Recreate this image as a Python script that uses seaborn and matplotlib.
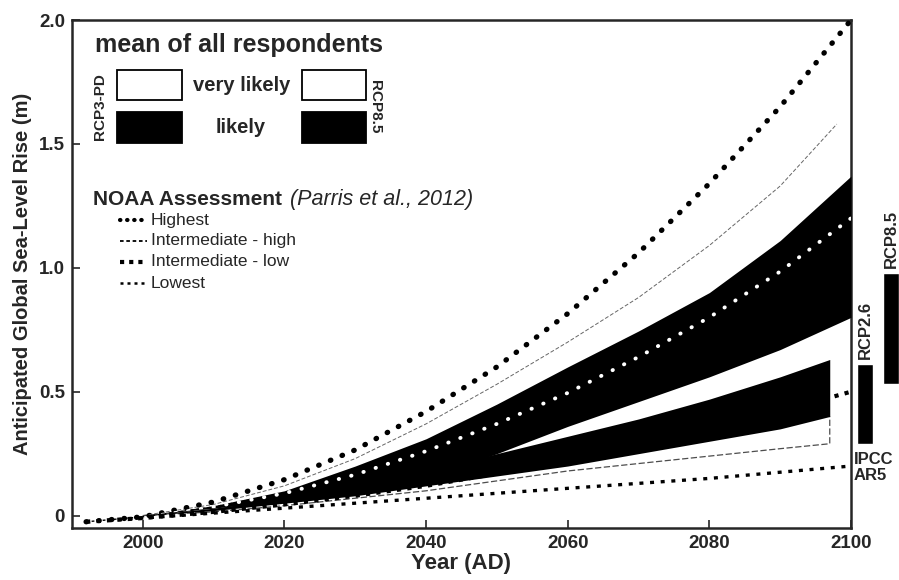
import matplotlib.pyplot as plt
import numpy as np
import seaborn as sns
from matplotlib.patches import Rectangle
from matplotlib.lines import Line2D

# NOAA scenarios (Parris et al., 2012)
noaa_years = [1992, 2000, 2010, 2020, 2030, 2040, 2050, 2060, 2070, 2080, 2090, 2100]
noaa_highest = [-0.025, -0.005, 0.055, 0.145, 0.265, 0.42, 0.60, 0.815, 1.06, 1.34, 1.65, 2.0]
noaa_int_high = [-0.025, -0.005, 0.035, 0.09, 0.165, 0.26, 0.37, 0.495, 0.64, 0.80, 0.985, 1.2]
noaa_int_low = [-0.025, -0.01, 0.015, 0.045, 0.08, 0.12, 0.17, 0.22, 0.28, 0.345, 0.42, 0.5]
noaa_lowest = [-0.025, -0.01, 0.01, 0.03, 0.05, 0.07, 0.09, 0.11, 0.13, 0.15, 0.175, 0.2]

# expert survey, RCP8.5
rcp85_years = [2000, 2010, 2020, 2030, 2040, 2050, 2060, 2070, 2080, 2090, 2100]
rcp85_likely_hi = [0.0, 0.04, 0.10, 0.20, 0.31, 0.45, 0.60, 0.745, 0.90, 1.11, 1.37]
rcp85_likely_lo = [0.0, 0.03, 0.06, 0.09, 0.15, 0.25, 0.36, 0.46, 0.56, 0.67, 0.80]
rcp85_vl_years = [2000, 2010, 2020, 2030, 2040, 2050, 2060, 2070, 2080, 2090, 2098]
rcp85_vlikely_hi = [0.0, 0.045, 0.12, 0.23, 0.37, 0.53, 0.70, 0.88, 1.09, 1.33, 1.58]

# expert survey, RCP3-PD
rcp3_years = [2000, 2010, 2020, 2030, 2040, 2050, 2060, 2070, 2080, 2090, 2097]
rcp3_likely_hi = [0.0, 0.03, 0.07, 0.12, 0.18, 0.25, 0.32, 0.39, 0.47, 0.56, 0.63]
rcp3_likely_lo = [0.0, 0.02, 0.05, 0.08, 0.12, 0.16, 0.20, 0.25, 0.30, 0.35, 0.40]
rcp3_vlikely_lo = [0.0, 0.015, 0.04, 0.07, 0.10, 0.14, 0.18, 0.21, 0.24, 0.27, 0.29]

# IPCC AR5 ranges at 2100
ipcc_names = ["RCP2.6", "RCP8.5"]
ipcc_x = [2102.0, 2105.65]
ipcc_lo = [0.29, 0.53]
ipcc_hi = [0.61, 0.98]

sns.set_style("ticks")
plt.rcParams['font.family'] = ['Liberation Sans', 'DejaVu Sans']

fig = plt.figure(figsize=(8.99, 5.80), dpi=100)
ax = fig.add_axes([0.080, 0.0897, 0.8666, 0.8758])

# survey bands
ax.plot(rcp85_vl_years, rcp85_vlikely_hi, color='0.4', lw=0.7,
        linestyle=(0, (4, 2)), zorder=2)
band85 = ax.fill_between(rcp85_years, rcp85_likely_lo, rcp85_likely_hi,
                         color='black', lw=0, zorder=3)
ax.plot(rcp3_years + [rcp3_years[-1]], rcp3_vlikely_lo + [rcp3_likely_lo[-1]],
        color='0.3', lw=0.9, linestyle=(0, (5, 2)), zorder=2)
ax.fill_between(rcp3_years, rcp3_likely_lo, rcp3_likely_hi,
                color='black', lw=0, zorder=3)

# NOAA lines
sns.lineplot(x=noaa_years, y=noaa_highest, ax=ax, color='black', lw=3.8,
             linestyle=(0, (0.1, 2.3)), dash_capstyle='round', zorder=5)
sns.lineplot(x=noaa_years, y=noaa_int_high, ax=ax, color='black', lw=1.0,
             linestyle=(0, (2, 2)), zorder=4)
white = ax.plot(noaa_years, noaa_int_high, color='white', lw=2.8,
                linestyle=(0, (0.1, 3.2)), dash_capstyle='round', zorder=6)[0]
white.set_clip_path(band85.get_paths()[0], transform=ax.transData)
sns.lineplot(x=noaa_years, y=noaa_int_low, ax=ax, color='black', lw=3.0,
             linestyle=(0, (1, 1.5)), zorder=5)
sns.lineplot(x=noaa_years, y=noaa_lowest, ax=ax, color='black', lw=2.4,
             linestyle=(0, (1.2, 2.0)), zorder=5)

# IPCC AR5 bars outside the axes
for name, x, lo, hi in zip(ipcc_names, ipcc_x, ipcc_lo, ipcc_hi):
    ax.bar([x], [hi - lo], bottom=[lo], width=2.25, color='black', clip_on=False)
    ax.text(x, hi + 0.02, name, rotation=90, ha='center', va='bottom',
            fontsize=12, fontweight='bold', clip_on=False)
ax.text(2100.4, 0.255, "IPCC\nAR5", ha='left', va='top', fontsize=12,
        fontweight='bold', linespacing=1.05)

ax.set_xlim(1990, 2100)
ax.set_ylim(-0.05, 2.0)
ax.set_xticks([2000, 2020, 2040, 2060, 2080, 2100])
ax.set_yticks([0, 0.5, 1.0, 1.5, 2.0])
ax.set_yticklabels(["0", "0.5", "1.0", "1.5", "2.0"])
ax.tick_params(direction='in', length=6, width=1.2, labelsize=13.5, pad=5)
for lab in ax.get_xticklabels() + ax.get_yticklabels():
    lab.set_fontweight('bold')
for sp in ax.spines.values():
    sp.set_linewidth(1.8)
ax.set_xlabel("Year (AD)", fontsize=16, fontweight='bold', labelpad=1)
ax.set_ylabel("Anticipated Global Sea-Level Rise (m)", fontsize=14.5,
              fontweight='bold', labelpad=5)

# hand-made legend
tr = ax.transAxes
ax.text(0.0295, 0.951, "mean of all respondents", transform=tr, fontsize=18,
        fontweight='bold', va='center', ha='left')
for x0 in (0.058, 0.295):
    ax.add_patch(Rectangle((x0, 0.8425), 0.083, 0.059, transform=tr,
                           facecolor='white', edgecolor='black', lw=1.3, zorder=7))
    ax.add_patch(Rectangle((x0, 0.758), 0.083, 0.061, transform=tr,
                           facecolor='black', edgecolor='black', lw=1.3, zorder=7))
ax.text(0.2175, 0.872, "very likely", transform=tr, fontsize=14.5,
        fontweight='bold', ha='center', va='center')
ax.text(0.2165, 0.789, "likely", transform=tr, fontsize=14.5,
        fontweight='bold', ha='center', va='center')
ax.text(0.036, 0.829, "RCP3-PD", transform=tr, fontsize=11, fontweight='bold',
        rotation=90, ha='center', va='center')
ax.text(0.389, 0.829, "RCP8.5", transform=tr, fontsize=11, fontweight='bold',
        rotation=270, ha='center', va='center')

ax.text(0.027, 0.646, "NOAA Assessment", transform=tr, fontsize=15,
        fontweight='bold', ha='left', va='center')
ax.text(0.280, 0.646, "(Parris et al., 2012)", transform=tr, fontsize=15.5,
        fontstyle='italic', ha='left', va='center')

leg_names = ["Highest", "Intermediate - high", "Intermediate - low", "Lowest"]
leg_styles = [dict(lw=3.0, linestyle=(0, (0.1, 1.6)), dash_capstyle='round'),
              dict(lw=1.3, linestyle=(0, (2, 1.5))),
              dict(lw=3.0, linestyle=(0, (1, 1.2))),
              dict(lw=1.8, linestyle=(0, (1.2, 1.6)))]
leg_y = [0.606, 0.565, 0.524, 0.482]
for name, style, yy in zip(leg_names, leg_styles, leg_y):
    ax.add_line(Line2D([0.0616, 0.0963], [yy, yy], transform=tr, color='black',
                       **style))
    ax.text(0.101, yy, name, transform=tr, fontsize=12.5, ha='left', va='center')

fig.savefig("out.png", dpi=100)
